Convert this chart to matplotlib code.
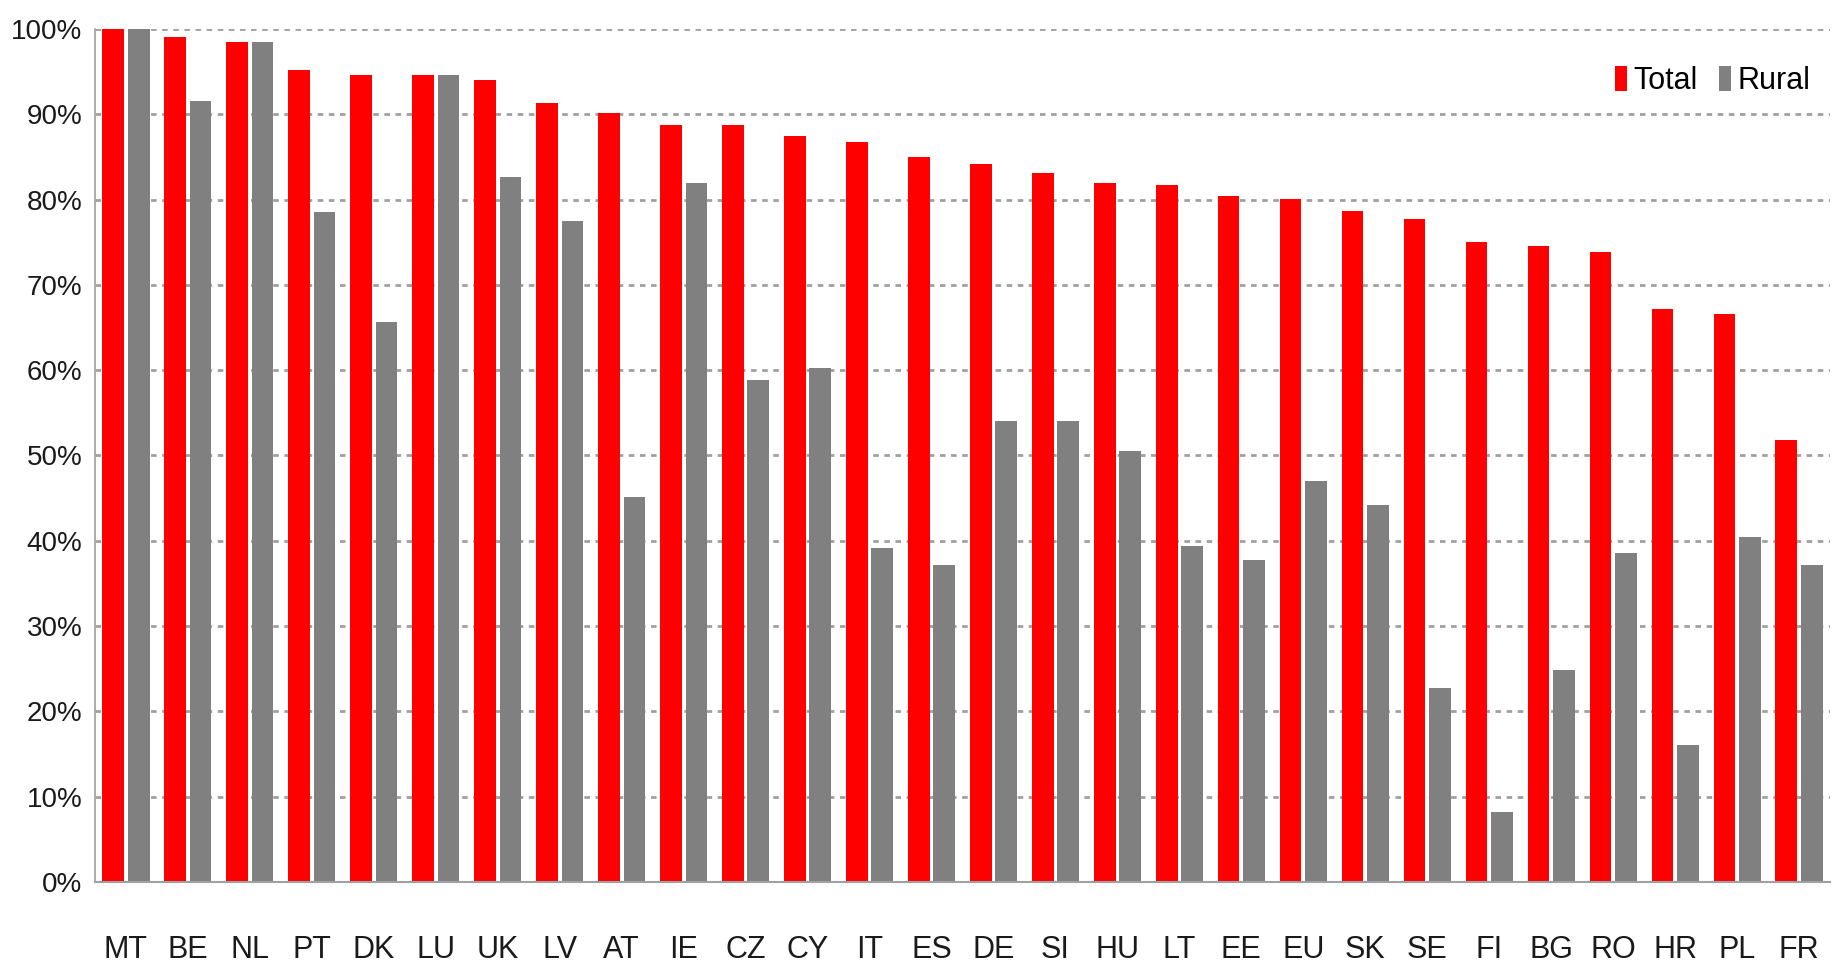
import matplotlib
matplotlib.use("Agg")
import matplotlib.pyplot as plt
import numpy as np
from matplotlib.ticker import FuncFormatter, MultipleLocator

countries = ["MT", "BE", "NL", "PT", "DK", "LU", "UK", "LV", "AT", "IE", "CZ", "CY", "IT", "ES",
             "DE", "SI", "HU", "LT", "EE", "EU", "SK", "SE", "FI", "BG", "RO", "HR", "PL", "FR"]
total = [100.0, 99.0, 98.5, 95.2, 94.6, 94.6, 94.0, 91.3, 90.1, 88.7, 88.7, 87.4, 86.8, 85.0,
         84.2, 83.1, 82.0, 81.7, 80.4, 80.1, 78.7, 77.7, 75.0, 74.5, 73.9, 67.2, 66.6, 51.8]
rural = [100.0, 91.6, 98.5, 78.6, 65.7, 94.6, 82.6, 77.5, 45.1, 82.0, 58.9, 60.2, 39.1, 37.2,
         54.0, 54.0, 50.5, 39.4, 37.8, 47.0, 44.2, 22.7, 8.2, 24.9, 38.6, 16.1, 40.5, 37.2]
series_names = ["Total", "Rural"]

plt.rcParams['font.family'] = ['Liberation Sans', 'DejaVu Sans']

fig = plt.figure(figsize=(18.37, 9.65), dpi=100)
ax = fig.add_axes([0.0517, 0.086, 0.9445, 0.884])

x = np.arange(len(countries))
w = 0.35
ax.bar(x - 0.205, total, width=w, color="#FF0000", label=series_names[0], zorder=3)
ax.bar(x + 0.205, rural, width=w, color="#808080", label=series_names[1], zorder=3)

ax.set_xlim(-0.5, len(countries) - 0.5)
ax.set_ylim(0, 100)
ax.yaxis.set_major_locator(MultipleLocator(10))
ax.yaxis.set_major_formatter(FuncFormatter(lambda v, p: f"{int(round(v))}%"))
ax.yaxis.grid(True, linestyle=(0, (2, 2)), color="#A0A0A0", linewidth=2, zorder=0)
ax.set_xticks(x)
ax.set_xticklabels(countries)

for s in ["top", "right"]:
    ax.spines[s].set_visible(False)
ax.spines["left"].set_color("#A0A0A0")
ax.spines["left"].set_linewidth(1.2)
ax.spines["bottom"].set_color("#A0A0A0")
ax.spines["bottom"].set_linewidth(1.5)
ax.spines["bottom"].set_zorder(4)

ax.tick_params(axis="x", length=0, pad=38, labelsize=22, labelcolor="#1a1a1a")
ax.tick_params(axis="y", length=0, pad=9, labelsize=20, labelcolor="#1a1a1a")

leg = ax.legend(loc="upper right", bbox_to_anchor=(0.999, 0.978), ncol=2, frameon=False,
                fontsize=22, handlelength=0.4, handleheight=0.85, handletextpad=0.2,
                columnspacing=0.7, borderaxespad=0.2)

fig.savefig("out.png", dpi=100, facecolor="white")
